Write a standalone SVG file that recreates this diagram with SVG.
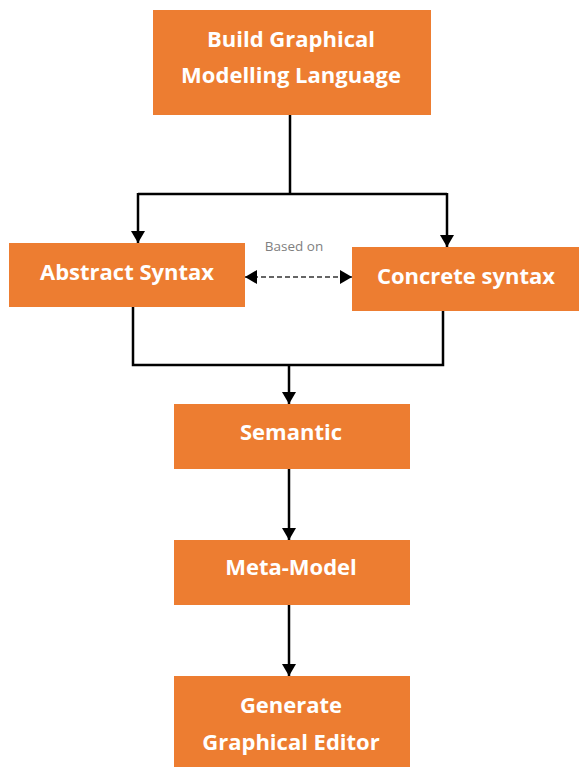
<svg xmlns="http://www.w3.org/2000/svg" width="579" height="767" viewBox="0 0 579 767">
<defs>
<style>
.box{fill:#ED7D31;}
.lbl{font-family:"Open Sans","Noto Sans",sans-serif;font-weight:700;font-size:22px;fill:#fff;text-anchor:middle;}
.ln{fill:none;stroke:#000;stroke-width:2.5;}
.dash{fill:none;stroke:#333;stroke-width:1.5;stroke-dasharray:5,3;}
.note{font-family:"Open Sans","Noto Sans",sans-serif;font-size:13.5px;fill:#7f7f7f;text-anchor:middle;}
</style>
<marker id="ah" viewBox="0 0 12 14" refX="12" refY="7" markerWidth="12" markerHeight="14" markerUnits="userSpaceOnUse" orient="auto">
<path d="M0,0 L12,7 L0,14 Z" fill="#000"/>
</marker>
<marker id="ahs" viewBox="0 0 12 14" refX="0" refY="7" markerWidth="12" markerHeight="14" markerUnits="userSpaceOnUse" orient="auto">
<path d="M12,0 L0,7 L12,14 Z" fill="#000"/>
</marker>
</defs>
<g id="connectors">
<path class="ln" d="M290,115 V194 M138,194 H447"/>
<path class="ln" d="M138,193 V243" marker-end="url(#ah)"/>
<path class="ln" d="M447,193 V247" marker-end="url(#ah)"/>
<path class="ln" d="M133,307 V365 H443 V311"/>
<path class="ln" d="M289,365 V404" marker-end="url(#ah)"/>
<path class="ln" d="M289,469 V540" marker-end="url(#ah)"/>
<path class="ln" d="M289,605 V676" marker-end="url(#ah)"/>
<path class="dash" d="M245,277 H352" marker-start="url(#ahs)" marker-end="url(#ah)"/>
<text class="note" x="294" y="251">Based on</text>
</g>
<g id="build">
<rect class="box" x="153" y="10" width="278" height="105"/>
<text class="lbl" x="291" y="47">Build Graphical</text>
<text class="lbl" x="291" y="83">Modelling Language</text>
</g>
<g id="abstract">
<rect class="box" x="9" y="243" width="236" height="64"/>
<text class="lbl" x="127" y="280">Abstract Syntax</text>
</g>
<g id="concrete">
<rect class="box" x="352" y="247" width="227" height="64"/>
<text class="lbl" x="466" y="284">Concrete syntax</text>
</g>
<g id="semantic">
<rect class="box" x="174" y="404" width="236" height="65"/>
<text class="lbl" x="291" y="440">Semantic</text>
</g>
<g id="metamodel">
<rect class="box" x="174" y="540" width="236" height="65"/>
<text class="lbl" x="291" y="575">Meta-Model</text>
</g>
<g id="generate">
<rect class="box" x="174" y="676" width="236" height="91"/>
<text class="lbl" x="291" y="713">Generate</text>
<text class="lbl" x="291" y="750">Graphical Editor</text>
</g>
</svg>
